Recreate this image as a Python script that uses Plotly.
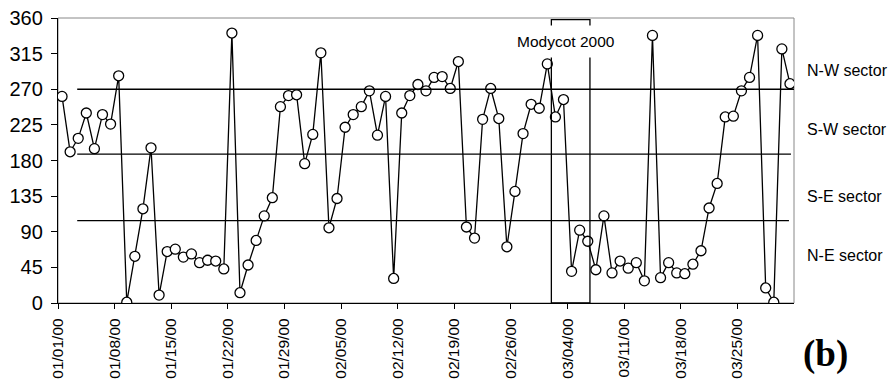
import pandas as pd
import plotly.graph_objects as go

# Daily wind direction (degrees), one reading per day at noon, 1 Jan - 31 Mar 2000
dates = pd.date_range("2000-01-01 12:00", periods=91, freq="D")
direction = [
    261, 191, 208, 240, 195, 238, 226, 287, 1, 59,
    119, 196, 10, 65, 68, 58, 62, 51, 54, 53,
    43, 341, 13, 48, 79, 110, 133, 248, 262, 263,
    176, 213, 316, 95, 132, 222, 238, 248, 268, 212,
    261, 31, 240, 262, 276, 268, 285, 286, 271, 305,
    96, 82, 232, 271, 233, 71, 141, 214, 251, 246,
    302, 235, 257, 40, 92, 78, 42, 110, 38, 53,
    44, 51, 28, 338, 32, 51, 38, 37, 49, 66,
    120, 151, 235, 236, 268, 285, 338, 19, 1, 321,
    277,
]

# Sector boundaries (degrees) and their labels
boundaries = [270, 188, 104]
boundary_ends = ["2000-04-01 00:00", "2000-03-31 15:00", "2000-03-31 09:00"]
sector_labels = ["N-W sector", "S-W sector", "S-E sector", "N-E sector"]
sector_label_y = [294, 219, 135, 60]

tick_dates = pd.date_range("2000-01-01", "2000-03-25", freq="7D")
y_ticks = [0, 45, 90, 135, 180, 225, 270, 315, 360]

campaign_start, campaign_end = "2000-03-02 00:00", "2000-03-06 18:30"

fig = go.Figure()

fig.add_trace(go.Scatter(
    x=dates, y=direction, mode="lines+markers",
    line=dict(color="black", width=1.3),
    marker=dict(size=10, color="white", line=dict(color="black", width=1.3)),
    showlegend=False,
))

# Plot frame: grey top and right edges
fig.add_shape(type="rect", xref="paper", yref="paper", x0=0, x1=1, y0=0, y1=1,
              line=dict(color="#888888", width=1), layer="below")

for b, end in zip(boundaries, boundary_ends):
    fig.add_shape(type="line", xref="x", yref="y",
                  x0="2000-01-03 09:00", x1=end, y0=b, y1=b,
                  line=dict(color="black", width=1.3))

# Measurement campaign window
fig.add_shape(type="rect", xref="x", yref="y",
              x0=campaign_start, x1=campaign_end, y0=0, y1=358,
              line=dict(color="black", width=1.3))
fig.add_annotation(x="2000-03-03 20:00", y=330, xref="x", yref="y",
                   text="Modycot 2000", showarrow=False, bgcolor="white",
                   borderpad=7,
                   font=dict(family="Liberation Sans, Arial", size=15.5, color="black"))

for lab, yv in zip(sector_labels, sector_label_y):
    fig.add_annotation(x=1.015, y=yv, xref="paper", yref="y", text=lab,
                       showarrow=False, xanchor="left",
                       font=dict(family="Liberation Sans, Arial", size=16, color="black"))

fig.add_annotation(x=1.010, y=-0.18, xref="paper", yref="paper", text="<b>(b)</b>",
                   showarrow=False, xanchor="left", yanchor="middle",
                   font=dict(family="Liberation Serif, Times New Roman", size=37, color="black"))

fig.update_xaxes(
    type="date", range=["2000-01-01", "2000-04-01"],
    tickvals=tick_dates, tickformat="%m/%d/%y", tickangle=-90,
    ticks="outside", ticklen=5, tickcolor="black", ticklabelstandoff=3,
    showline=True, linecolor="black", linewidth=1.3,
    showgrid=False, zeroline=False, automargin=False,
    tickfont=dict(family="Liberation Sans, Arial", size=15.5, color="black"),
)
fig.update_yaxes(
    range=[0, 360], tickvals=y_ticks,
    ticks="outside", ticklen=6, tickcolor="black", ticklabelstandoff=4,
    showline=True, linecolor="black", linewidth=1.3,
    showgrid=False, zeroline=False, automargin=False,
    tickfont=dict(family="Liberation Sans, Arial", size=20, color="black"),
)

fig.update_layout(
    width=893, height=383,
    margin=dict(l=58, r=99, t=18, b=80),
    paper_bgcolor="white", plot_bgcolor="white",
)

fig.write_html("out.html")
